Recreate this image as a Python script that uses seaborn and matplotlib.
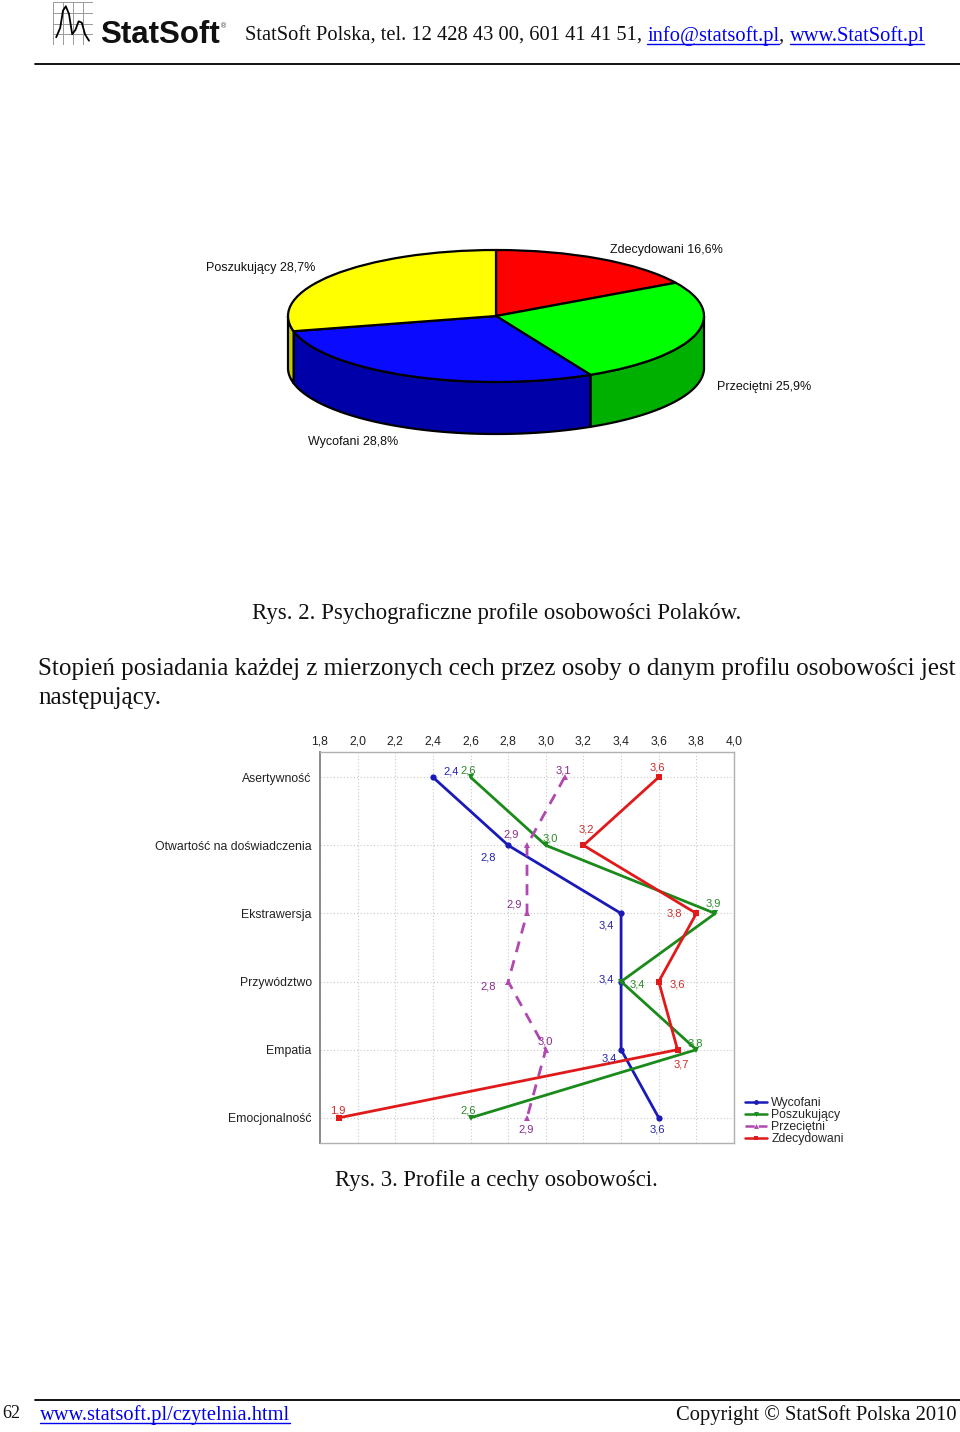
import matplotlib
matplotlib.use("Agg")
import matplotlib.pyplot as plt
import seaborn as sns
import numpy as np
import pandas as pd
from matplotlib.patches import Polygon
from matplotlib.lines import Line2D

sns.set_theme(style="white")
plt.rcParams['font.family'] = ['Liberation Sans', 'DejaVu Sans']

# ---------------- data ----------------
pie_labels = ['Zdecydowani', 'Przeciętni', 'Wycofani', 'Poszukujący']
pie_values = [16.6, 25.9, 28.8, 28.7]
pie_text = ['Zdecydowani 16,6%', 'Przeciętni 25,9%', 'Wycofani 28,8%', 'Poszukujący 28,7%']

traits = ['Asertywność', 'Otwartość na doświadczenia', 'Ekstrawersja',
          'Przywództwo', 'Empatia', 'Emocjonalność']
groups = ['Wycofani', 'Poszukujący', 'Przeciętni', 'Zdecydowani']
wycofani = [2.4, 2.8, 3.4, 3.4, 3.4, 3.6]
poszukujacy = [2.6, 3.0, 3.9, 3.4, 3.8, 2.6]
przecietni = [3.1, 2.9, 2.9, 2.8, 3.0, 2.9]
zdecydowani = [3.6, 3.2, 3.8, 3.6, 3.7, 1.9]
x_ticks = [1.8, 2.0, 2.2, 2.4, 2.6, 2.8, 3.0, 3.2, 3.4, 3.6, 3.8, 4.0]
x_tick_labels = ['1,8', '2,0', '2,2', '2,4', '2,6', '2,8', '3,0', '3,2', '3,4', '3,6', '3,8', '4,0']

# ---------------- styles ----------------
W, H = 960, 1432
pie_top_colors = ['#ff0000', '#00ff00', '#0a0aff', '#ffff00']
pie_side_colors = ['#b00000', '#00b000', '#0000a8', '#c8c800']
line_colors = {'Wycofani': '#1a1ab8', 'Poszukujący': '#1a8a1a',
               'Przeciętni': '#b048b0', 'Zdecydowani': '#e01a1a'}
label_colors = {'Wycofani': '#2424b0', 'Poszukujący': '#2a8a2a',
                'Przeciętni': '#8a2a8a', 'Zdecydowani': '#d02a2a'}
markers = {'Wycofani': 'o', 'Poszukujący': 'v', 'Przeciętni': '^', 'Zdecydowani': 's'}
dashes = {'Wycofani': '', 'Poszukujący': '', 'Przeciętni': (4, 3), 'Zdecydowani': ''}
# annotation offsets in pixels (dx right, dy down)
label_offsets = {
    'Wycofani': [(18, -6), (-20, 12), (-15, 12), (-15, -2), (-12, 9), (-1, 12)],
    'Poszukujący': [(-2, -7), (4, -7), (-2, -10), (16, 3), (-1, -6), (-2, -7)],
    'Przeciętni': [(-1, -7), (-16, -11), (-13, -9), (-20, 5), (-1, -8), (-1, 12)],
    'Zdecydowani': [(-1, -10), (3, -16), (-22, 0), (19, 3), (4, 15), (-1, -7)],
}
LINK = '#0000ee'
SERIF = ['Liberation Serif', 'DejaVu Serif']
SANS = ['Liberation Sans', 'DejaVu Sans']

fig = plt.figure(figsize=(W / 100, H / 100), dpi=100)
fig.patch.set_facecolor('white')
fig.canvas.draw()
renderer = fig.canvas.get_renderer()


def fx(x):
    return x / W


def fy(y):
    return 1 - y / H


def measure(s, size, **kw):
    t = fig.text(0, 0, s, fontsize=size, **kw)
    w = t.get_window_extent(renderer).width
    t.remove()
    return w


def fitted_size(s, width, base=12, **kw):
    return base * width / measure(s, base, **kw)


def put_line(pieces, x0, baseline, total_width, family):
    """pieces: list of (text, color, underline)"""
    full = ''.join(p[0] for p in pieces)
    size = fitted_size(full, total_width, family=family)
    xw = measure('x', size, family=family)
    prefix = ''
    for txt, col, ul in pieces:
        off = measure(prefix + 'x', size, family=family) - xw if prefix else 0
        t = fig.text(fx(x0 + off), fy(baseline), txt, fontsize=size, family=family,
                     color=col, va='baseline', ha='left')
        if ul:
            bb = t.get_window_extent(renderer)
            fig.add_artist(Line2D([bb.x0 / W, bb.x1 / W],
                                  [fy(baseline + 2.5)] * 2, color=col, lw=1.0))
        prefix += txt
    return size


# ---------------- header ----------------
ax_logo = fig.add_axes([fx(53), fy(45), 40 / W, 43 / H])
for gx in np.linspace(0, 1, 5):
    ax_logo.axvline(gx, color='#9a9a9a', lw=0.7)
for gy in np.linspace(0, 1, 5):
    ax_logo.axhline(gy, color='#9a9a9a', lw=0.7)
logo_x = [0.08, 0.18, 0.25, 0.32, 0.40, 0.48, 0.56, 0.64, 0.72, 0.80, 0.90]
logo_y = [0.18, 0.40, 0.80, 0.90, 0.72, 0.25, 0.35, 0.55, 0.52, 0.25, 0.10]
ax_logo.plot(logo_x, logo_y, color='black', lw=1.3)
ax_logo.set_xlim(0, 1)
ax_logo.set_ylim(0, 1)
ax_logo.axis('off')

s_logo = fitted_size('StatSoft', 120, family=SANS, weight='bold')
fig.text(fx(100), fy(43), 'StatSoft', fontsize=s_logo, family=SANS, weight='bold',
         color='#111111', va='baseline')
fig.text(fx(221), fy(28), '®', fontsize=5, family=SANS, color='#333333', va='baseline')

put_line([('StatSoft Polska, tel. 12 428 43 00, 601 41 41 51, ', '#111111', False),
          ('info@statsoft.pl', LINK, True),
          (', ', '#111111', False),
          ('www.StatSoft.pl', LINK, True)],
         245, 41, 679, SERIF)

fig.add_artist(Line2D([fx(35), fx(960)], [fy(64), fy(64)], color='black', lw=1.3))

# ---------------- 3D pie ----------------
ax_pie = fig.add_axes([fx(277.6), fy(448), 436.8 / W, 204.6 / H])
depth = 52 / 66
total = sum(pie_values)
start = 90.0
for val, side_col in zip(pie_values, pie_side_colors):
    end = start - val / total * 360.0
    lo, hi = max(end, -180.0), min(start, 0.0)
    if hi > lo:
        t = np.radians(np.linspace(lo, hi, 80))
        top = np.column_stack([np.cos(t), np.sin(t)])
        bot = np.column_stack([np.cos(t[::-1]), np.sin(t[::-1]) - depth])
        ax_pie.add_patch(Polygon(np.vstack([top, bot]), closed=True,
                                 facecolor=side_col, edgecolor='black', lw=1.6,
                                 joinstyle='round', zorder=0.5))
    start = end
ax_pie.pie(pie_values, colors=pie_top_colors, startangle=90, counterclock=False,
           wedgeprops=dict(edgecolor='black', linewidth=1.6, joinstyle='round'))
ax_pie.set_aspect('auto')
ax_pie.set_xlim(-1.05, 1.05)
ax_pie.set_ylim(-2.0, 1.1)
ax_pie.axis('off')

pie_label_pos = {'Zdecydowani': (666, 250), 'Przeciętni': (764, 387),
                 'Wycofani': (353, 442), 'Poszukujący': (261, 268)}
for lab, txt in zip(pie_labels, pie_text):
    px, py = pie_label_pos[lab]
    fig.text(fx(px), fy(py), txt, fontsize=9, family=SANS, ha='center', va='center',
             color='#111111')

# ---------------- captions ----------------
put_line([('Rys. 2. Psychograficzne profile osobowości Polaków.', '#111111', False)],
         252, 619, 489, SERIF)
body_size = put_line([('Stopień posiadania każdej z mierzonych cech przez osoby o danym profilu osobowości jest',
                       '#111111', False)], 38, 675, 918, SERIF)
fig.text(fx(38), fy(704), 'następujący.', fontsize=body_size, family=SERIF,
         color='#111111', va='baseline')
put_line([('Rys. 3. Profile a cechy osobowości.', '#111111', False)], 335, 1186, 323, SERIF)

# ---------------- line chart ----------------
ax = fig.add_axes([fx(320), fy(1143), 414 / W, 391 / H])
series = {'Wycofani': wycofani, 'Poszukujący': poszukujacy,
          'Przeciętni': przecietni, 'Zdecydowani': zdecydowani}
rows = []
for g in groups:
    for i, v in enumerate(series[g]):
        rows.append({'group': g, 'trait': traits[i], 'pos': i, 'value': v})
df = pd.DataFrame(rows)

sns.lineplot(data=df, x='value', y='pos', hue='group', style='group',
             palette=line_colors, markers=markers, dashes=dashes, hue_order=groups,
             style_order=groups, sort=False, estimator=None, linewidth=2.0,
             markersize=4.5, markeredgewidth=0, legend=False, ax=ax)

for g in groups:
    for i, v in enumerate(series[g]):
        dx, dy = label_offsets[g][i]
        ax.annotate(f"{v:.1f}".replace('.', ','), (v, i), xytext=(dx, -dy),
                    textcoords='offset pixels', ha='center', va='center',
                    fontsize=8, color=label_colors[g], family=SANS)

ax.set_xlim(1.8, 4.0)
ax.set_ylim(5.37, -0.37)
ax.set_xticks(x_ticks)
ax.set_xticklabels(x_tick_labels, fontsize=8.7, color='#222222')
ax.set_yticks(range(len(traits)))
ax.set_yticklabels(traits, fontsize=8.8, color='#222222')
ax.xaxis.tick_top()
ax.tick_params(axis='x', length=0, pad=3)
ax.tick_params(axis='y', length=0, pad=6)
ax.set_xlabel('')
ax.set_ylabel('')
ax.grid(True, linestyle=(0, (1, 2)), color='#c8c8c8', linewidth=0.8)
ax.set_facecolor('white')
for name, sp in ax.spines.items():
    sp.set_visible(True)
    sp.set_color('#b0b0b0')
    sp.set_linewidth(1.0)
ax.spines['left'].set_color('#8a8a8a')
ax.spines['left'].set_linewidth(1.4)

handles = [Line2D([0], [0], color=line_colors[g], marker=markers[g], markersize=3.5,
                  markeredgewidth=0, lw=1.8,
                  linestyle='--' if dashes[g] else '-') for g in groups]
ax.legend(handles, groups, loc='upper left', bbox_to_anchor=(fx(745), fy(1097)),
          bbox_transform=fig.transFigure, frameon=False, fontsize=8.8,
          handlelength=1.8, handletextpad=0.35, labelspacing=0.0, borderpad=0,
          borderaxespad=0)

# ---------------- footer ----------------
fig.add_artist(Line2D([fx(35), fx(960)], [fy(1400), fy(1400)], color='black', lw=1.3))
put_line([('62', '#111111', False)], 2, 1418, 18, SERIF)
put_line([('www.statsoft.pl/czytelnia.html', LINK, True)], 40, 1420, 251, SERIF)
put_line([('Copyright © StatSoft Polska 2010', '#111111', False)], 676, 1420, 280, SERIF)

fig.savefig('out.png', dpi=100, facecolor='white')
